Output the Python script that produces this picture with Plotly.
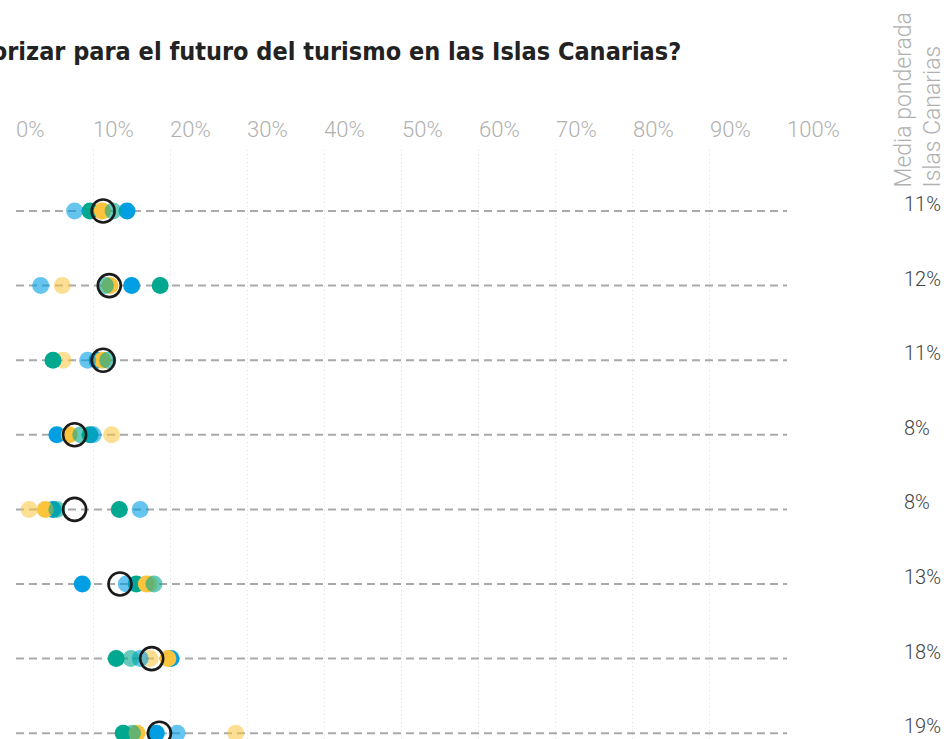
import plotly.graph_objects as go

# Filas del gráfico (de arriba abajo)
filas = [0, 1, 2, 3, 4, 5, 6, 7]

# Porcentaje por isla / grupo en cada fila
azul = [14.4, 15.0, 10.5, 5.3, 4.8, 8.6, 20.1, 18.2]
azul_claro = [7.6, 3.2, 9.3, 10.0, 16.1, 14.3, 16.1, 20.9]
verde = [9.6, 18.7, 4.8, 9.6, 13.4, 15.6, 13.0, 13.9]
verde_claro = [12.6, 11.6, 11.9, 8.4, 5.3, 17.9, 14.9, 15.1]
amarillo = [11.2, 12.2, 11.2, 6.9, 3.8, 16.9, 19.7, 15.7]
amarillo_claro = [11.0, 6.0, 6.1, 12.4, 1.7, 17.3, 17.4, 28.5]

# Media ponderada de las Islas Canarias
media = [11.3, 12.1, 11.3, 7.6, 7.6, 13.49, 17.6, 18.6]

ticks_x = [0, 10, 20, 30, 40, 50, 60, 70, 80, 90, 100]
ticks_txt = [f"{t}%" for t in ticks_x]

titulo = ("¿Qué aspectos cree que se deberían priorizar para el futuro "
          "del turismo en las Islas Canarias?")

W, H = 946, 739
ML, MR, MT, MB = 16, 159, 150, 0
PW, PH = W - ML - MR, H - MT - MB


def px_x(p):
    return (p - ML) / PW


def px_y(p):
    return 1 - (p - MT) / PH


fig = go.Figure()

# Líneas discontinuas de cada fila
lx, ly = [], []
for f in filas:
    lx += [0, 100, None]
    ly += [f, f, None]
fig.add_trace(go.Scatter(
    x=lx, y=ly, mode="lines", hoverinfo="skip", showlegend=False,
    line=dict(color="#a9a9a9", width=2, dash="8px,5px"),
))

series = [
    ("amarillo claro", amarillo_claro, "rgba(252,196,61,0.55)"),
    ("verde", verde, "#00a88f"),
    ("azul", azul, "#009fe3"),
    ("amarillo", amarillo, "#fcc43d"),
    ("azul claro", azul_claro, "rgba(0,159,227,0.6)"),
    ("verde claro", verde_claro, "rgba(0,168,143,0.6)"),
]
for nombre, vals, color in series:
    fig.add_trace(go.Scatter(
        x=vals, y=filas, mode="markers", name=nombre, showlegend=False,
        marker=dict(size=17, color=color, line=dict(width=0)),
        cliponaxis=False,
    ))

# Círculo de la media ponderada
fig.add_trace(go.Scatter(
    x=media, y=filas, mode="markers", name="Media ponderada", showlegend=False,
    marker=dict(symbol="circle-open", size=23, color="#1b1b1b",
                line=dict(width=2.6, color="#1b1b1b")),
    cliponaxis=False,
))

anots = []
# Etiquetas del eje X, alineadas a la izquierda de cada línea guía
for t, txt in zip(ticks_x, ticks_txt):
    anots.append(dict(
        x=t, xref="x", y=px_y(129), yref="paper", text=txt,
        xanchor="left", yanchor="middle", showarrow=False, xshift=-2,
        font=dict(family="Roboto", size=22, color="#b0b0b0", weight=300),
    ))

# Valor de la media a la derecha
for f, m in zip(filas, media):
    anots.append(dict(
        x=px_x(902), xref="paper", y=f, yref="y", text=f"{round(m)}%",
        xanchor="left", yanchor="middle", showarrow=False, yshift=7,
        font=dict(family="Roboto", size=20, color="#444444", weight=300),
    ))

# Cabecera de la columna de medias
anots.append(dict(
    x=px_x(918), xref="paper", y=px_y(190), yref="paper",
    text="Media ponderada<br>Islas Canarias", textangle=-90, align="left",
    xanchor="center", yanchor="bottom", showarrow=False,
    font=dict(family="Roboto", size=23, color="#b0b0b0", weight=300),
))

# Título
anots.append(dict(
    x=px_x(683), xref="paper", y=px_y(52), yref="paper", text=f"<b>{titulo}</b>",
    xanchor="right", yanchor="middle", showarrow=False,
    font=dict(family="Liberation Sans Narrow, DejaVu Sans Condensed, Roboto Condensed, Roboto",
              size=25, color="#222222"),
))

fig.update_layout(
    width=W, height=H,
    margin=dict(l=ML, r=MR, t=MT, b=MB),
    paper_bgcolor="white", plot_bgcolor="white",
    annotations=anots,
    xaxis=dict(range=[0, 100], tickvals=ticks_x, showticklabels=False,
               showgrid=True, gridcolor="#dedede", griddash="1px,3px", gridwidth=1,
               zeroline=False, showline=False, fixedrange=True),
    yaxis=dict(range=[7.078, -0.818], showgrid=False, showticklabels=False,
               zeroline=False, showline=False, fixedrange=True),
    hovermode=False,
)

fig.write_html("out.html", config=dict(displayModeBar=False))
